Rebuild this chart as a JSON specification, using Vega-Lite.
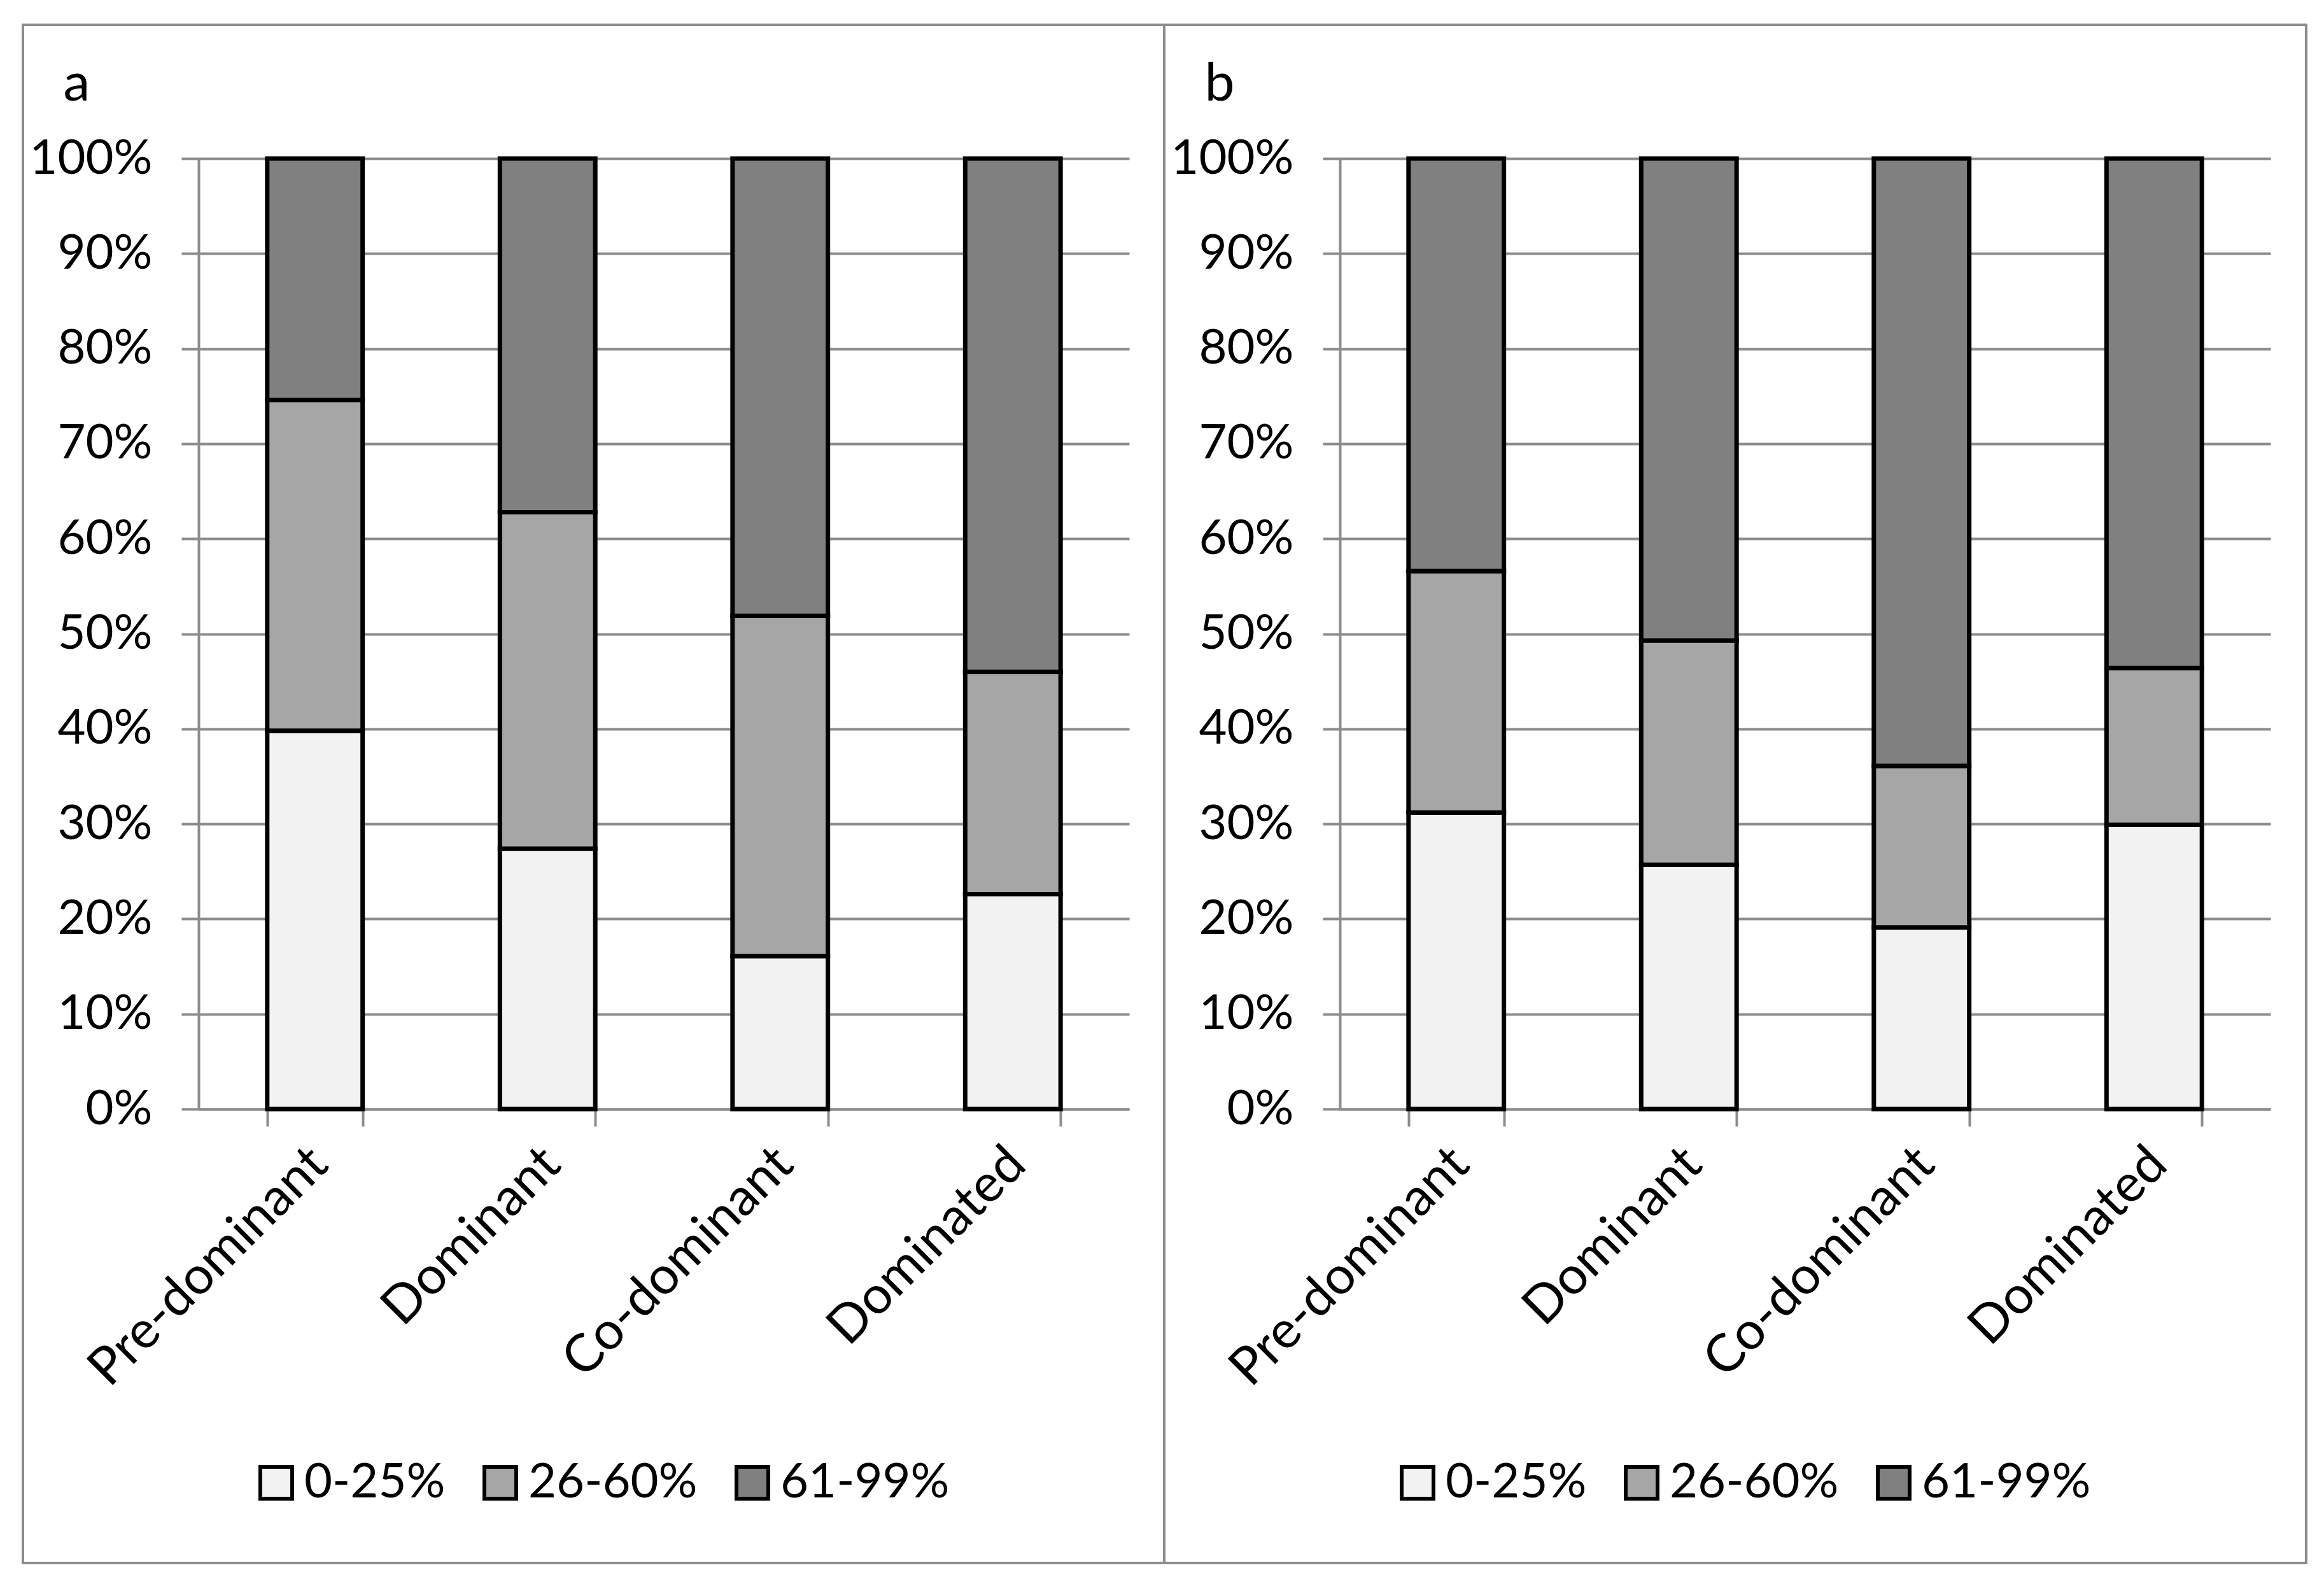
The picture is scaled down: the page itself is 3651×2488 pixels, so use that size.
{
  "$schema": "https://vega.github.io/schema/vega-lite/v6.json",
  "background": "white",
  "padding": {"left": 33, "top": 37, "right": 20, "bottom": 20},
  "datasets": {
    "rows": [
      {"panel": "a", "category": "Pre-dominant", "range": "0-25%", "pct": 39.8},
      {"panel": "a", "category": "Pre-dominant", "range": "26-60%", "pct": 34.8},
      {"panel": "a", "category": "Pre-dominant", "range": "61-99%", "pct": 25.4},
      {"panel": "a", "category": "Dominant", "range": "0-25%", "pct": 27.4},
      {"panel": "a", "category": "Dominant", "range": "26-60%", "pct": 35.4},
      {"panel": "a", "category": "Dominant", "range": "61-99%", "pct": 37.2},
      {"panel": "a", "category": "Co-dominant", "range": "0-25%", "pct": 16.1},
      {"panel": "a", "category": "Co-dominant", "range": "26-60%", "pct": 35.8},
      {"panel": "a", "category": "Co-dominant", "range": "61-99%", "pct": 48.1},
      {"panel": "a", "category": "Dominated", "range": "0-25%", "pct": 22.6},
      {"panel": "a", "category": "Dominated", "range": "26-60%", "pct": 23.4},
      {"panel": "a", "category": "Dominated", "range": "61-99%", "pct": 54.0},
      {"panel": "b", "category": "Pre-dominant", "range": "0-25%", "pct": 31.2},
      {"panel": "b", "category": "Pre-dominant", "range": "26-60%", "pct": 25.4},
      {"panel": "b", "category": "Pre-dominant", "range": "61-99%", "pct": 43.4},
      {"panel": "b", "category": "Dominant", "range": "0-25%", "pct": 25.7},
      {"panel": "b", "category": "Dominant", "range": "26-60%", "pct": 23.6},
      {"panel": "b", "category": "Dominant", "range": "61-99%", "pct": 50.7},
      {"panel": "b", "category": "Co-dominant", "range": "0-25%", "pct": 19.1},
      {"panel": "b", "category": "Co-dominant", "range": "26-60%", "pct": 17.0},
      {"panel": "b", "category": "Co-dominant", "range": "61-99%", "pct": 63.9},
      {"panel": "b", "category": "Dominated", "range": "0-25%", "pct": 29.9},
      {"panel": "b", "category": "Dominated", "range": "26-60%", "pct": 16.5},
      {"panel": "b", "category": "Dominated", "range": "61-99%", "pct": 53.6}
    ]
  },
  "spacing": 0,
  "bounds": "flush",
  "hconcat": [
    {
      "width": 1793,
      "height": 2416,
      "data": {"name": "rows"},
      "transform": [{"filter": "datum.panel === 'a'"}],
      "mark": {"type": "bar", "stroke": "black", "strokeWidth": 7},
      "encoding": {
        "x": {
          "field": "category", "type": "nominal",
          "sort": ["Pre-dominant", "Dominant", "Co-dominant", "Dominated"],
          "scale": {"range": [276, 1738], "paddingInner": 0.59, "paddingOuter": 0.295},
          "axis": {"offset": -713}
        },
        "y": {
          "field": "pct", "type": "quantitative", "stack": "zero",
          "scale": {"domain": [0, 100], "range": [1703, 210], "nice": false},
          "axis": {"offset": -276, "values": [0, 10, 20, 30, 40, 50, 60, 70, 80, 90, 100], "title": "a"}
        },
        "order": {"field": "range", "sort": "ascending"},
        "color": {
          "field": "range", "type": "nominal",
          "scale": {"domain": ["0-25%", "26-60%", "61-99%"], "range": ["#f2f2f2", "#a6a6a6", "#808080"]},
          "legend": {"legendX": 360, "legendY": 2252}
        }
      }
    },
    {
      "width": 1794,
      "height": 2416,
      "data": {"name": "rows"},
      "transform": [{"filter": "datum.panel === 'b'"}],
      "mark": {"type": "bar", "stroke": "black", "strokeWidth": 7},
      "encoding": {
        "x": {
          "field": "category", "type": "nominal",
          "sort": ["Pre-dominant", "Dominant", "Co-dominant", "Dominated"],
          "scale": {"range": [276, 1738], "paddingInner": 0.59, "paddingOuter": 0.295},
          "axis": {"offset": -713}
        },
        "y": {
          "field": "pct", "type": "quantitative", "stack": "zero",
          "scale": {"domain": [0, 100], "range": [1703, 210], "nice": false},
          "axis": {"offset": -276, "values": [0, 10, 20, 30, 40, 50, 60, 70, 80, 90, 100], "title": "b"}
        },
        "order": {"field": "range", "sort": "ascending"},
        "color": {
          "field": "range", "type": "nominal",
          "scale": {"domain": ["0-25%", "26-60%", "61-99%"], "range": ["#f2f2f2", "#a6a6a6", "#808080"]},
          "legend": {"legendX": 360, "legendY": 2252}
        }
      }
    }
  ],
  "resolve": {"scale": {"x": "independent", "y": "independent", "color": "independent"}, "legend": {"color": "independent"}},
  "config": {
    "font": "Lato",
    "view": {"stroke": "#8c8c8c", "strokeWidth": 4},
    "axisX": {
      "title": null, "grid": false, "tickBand": "extent",
      "domainColor": "#8c8c8c", "domainWidth": 4,
      "tickColor": "#8c8c8c", "tickWidth": 4, "tickSize": 27,
      "labelAngle": -45, "labelFontSize": 82, "labelColor": "black", "labelFont": "Lato",
      "labelPadding": 18, "labelOffset": -22, "labelLimit": 0
    },
    "axisY": {
      "grid": true, "gridColor": "#8c8c8c", "gridWidth": 4,
      "domainColor": "#8c8c8c", "domainWidth": 4,
      "tickColor": "#8c8c8c", "tickWidth": 4, "tickSize": 27,
      "labelExpr": "datum.value + '%'",
      "labelFontSize": 76, "labelColor": "black", "labelFont": "Lato", "labelPadding": 46, "labelLimit": 0,
      "titleAngle": 0, "titleX": -213, "titleY": 118, "titleAlign": "left", "titleBaseline": "alphabetic",
      "titleFont": "Lato", "titleFontSize": 84, "titleFontWeight": "normal", "titleColor": "black"
    },
    "legend": {
      "orient": "none", "direction": "horizontal", "title": null,
      "symbolType": "square", "symbolSize": 2500, "symbolStrokeColor": "black", "symbolStrokeWidth": 6,
      "symbolOpacity": 1,
      "labelFontSize": 76, "labelFont": "Lato", "labelColor": "black", "labelOffset": 6,
      "columnPadding": 48, "labelLimit": 0
    }
  }
}
